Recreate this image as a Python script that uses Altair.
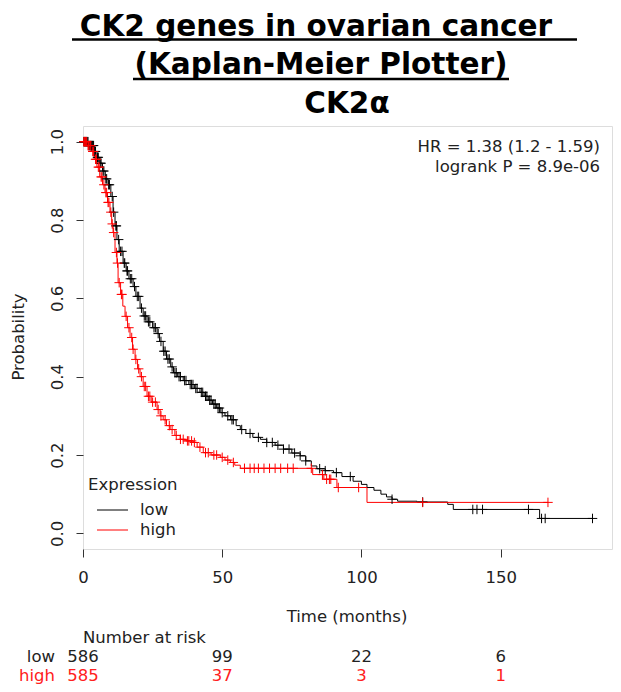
import bisect
import altair as alt
import pandas as pd

# ---------------- data ----------------
low_t = [0, 2, 4, 5, 6, 7, 8, 9, 10, 10.8, 11.5, 12.2, 13, 14.4, 15.5, 16.5, 18, 19, 20.5,
         21.6, 23, 25, 26.6, 27.5, 28.8, 30, 31.5, 32.5, 34, 36, 38, 40, 42, 43.5, 45, 46.5,
         48, 49.5, 51, 53, 55, 56.5, 58.5, 61, 63.7, 66, 69, 72, 75, 78, 80, 82, 84, 87, 90,
         93, 97, 100, 102, 104.5, 107, 109, 111, 113, 120, 131, 133, 164, 183]
low_s = [1.0, 0.99, 0.975, 0.96, 0.945, 0.925, 0.905, 0.89, 0.86, 0.82, 0.785, 0.75, 0.72,
         0.69, 0.67, 0.65, 0.63, 0.605, 0.575, 0.555, 0.54, 0.525, 0.51, 0.49, 0.465, 0.445,
         0.425, 0.41, 0.40, 0.39, 0.38, 0.37, 0.36, 0.35, 0.34, 0.33, 0.32, 0.308, 0.30, 0.29,
         0.275, 0.265, 0.255, 0.245, 0.24, 0.232, 0.225, 0.215, 0.205, 0.198, 0.185, 0.172,
         0.165, 0.16, 0.155, 0.145, 0.133, 0.125, 0.117, 0.11, 0.10, 0.093, 0.087, 0.082,
         0.08, 0.074, 0.061, 0.038, 0.038]

high_t = [0, 1.5, 3, 4, 5, 6, 7, 7.9, 8.8, 9.7, 10.3, 10.8, 11.5, 12.2, 12.6, 13.5, 14.3,
          15.1, 16, 16.9, 17.8, 18.7, 19.6, 20.5, 21.6, 23, 24.5, 26.6, 27.7, 28.8, 30, 31.3,
          33, 34.9, 37, 39.6, 41, 43.2, 46, 49.3, 51, 52.9, 54.5, 56.5, 82.5, 86.5, 91.2,
          102, 167]
high_s = [1.0, 0.99, 0.975, 0.955, 0.935, 0.91, 0.89, 0.87, 0.845, 0.82, 0.79, 0.768, 0.717,
          0.69, 0.64, 0.61, 0.58, 0.554, 0.525, 0.50, 0.47, 0.444, 0.42, 0.40, 0.375, 0.35,
          0.335, 0.316, 0.30, 0.29, 0.275, 0.265, 0.25, 0.24, 0.236, 0.232, 0.22, 0.206, 0.20,
          0.194, 0.187, 0.181, 0.174, 0.166, 0.15, 0.138, 0.117, 0.079, 0.079]

low_censor = [0.3, 0.5, 0.8, 1, 1.3, 1.5, 1.8, 2.2, 2.5, 2.8, 3, 3.3, 3.5, 3.8, 4.2, 4.5, 5.2,
              5.5, 6.2, 6.5, 7.2, 7.5, 8.2, 8.5, 9.2, 9.5, 10.5, 11, 11.8, 12, 12.8, 13.5, 14,
              14.8, 15, 15.8, 16, 17, 17.5, 18.5, 19.5, 20, 21, 22, 22.5, 23.5, 24, 25.5, 26,
              27, 28, 29, 29.5, 30.5, 31, 32, 33, 33.5, 34.5, 35, 36.5, 37, 38.5, 39, 39.5,
              40.5, 41, 42.5, 43, 44, 44.5, 45.5, 46, 47, 47.5, 48.5, 49, 50, 52, 53.5, 54, 57,
              60, 63, 66, 68, 70, 72, 74, 76, 78, 80, 85, 87, 91, 96, 111, 122, 140, 141.5,
              143.5, 160, 164.7, 166, 183]
high_censor = [0.3, 0.5, 0.8, 1, 1.3, 1.8, 2, 2.5, 2.8, 3.5, 3.8, 4.5, 4.8, 5.5, 5.8, 6.5,
               6.8, 7.5, 8.2, 8.5, 9, 9.3, 10, 10.5, 11, 12, 12.4, 13, 13.8, 14, 15.5, 16.5,
               17.5, 18, 19, 20, 21, 22, 22.5, 23.5, 24, 25, 26, 27, 28, 29.5, 31, 32, 33.5,
               35, 36, 37.5, 38, 39, 40, 42, 44, 45, 47, 48, 50, 52, 54, 58, 60, 61.5, 63, 65,
               67, 69, 71, 73.5, 75.5, 82, 86, 87.5, 88.5, 89, 91.7, 99, 122, 167]

groups = ["low", "high"]
group_colors = ["#000000", "#ff0000"]
risk_times = [0, 50, 100, 150]
risk_low = [586, 99, 22, 6]
risk_high = [585, 37, 3, 1]
x_ticks = [0, 50, 100, 150]
y_ticks = [0.0, 0.2, 0.4, 0.6, 0.8, 1.0]
hr_text = "HR = 1.38 (1.2 - 1.59)"
p_text = "logrank P = 8.9e-06"
title_lines = ["CK2 genes in ovarian cancer", "(Kaplan-Meier Plotter)"]
subtitle = "CK2\u03b1"

# ---------------- tables ----------------
curve_rows = []
for g, ts, ss in [("low", low_t, low_s), ("high", high_t, high_s)]:
    for i, (t, s) in enumerate(zip(ts, ss)):
        curve_rows.append({"group": g, "t": t, "s": s, "i": i})
curves = pd.DataFrame(curve_rows)


def surv_at(ts, ss, c):
    k = bisect.bisect_right(ts, c) - 1
    return ss[max(k, 0)]


cens_rows = []
for g, ts, ss, cs in [("low", low_t, low_s, low_censor), ("high", high_t, high_s, high_censor)]:
    for c in cs:
        cens_rows.append({"group": g, "t": c, "s": surv_at(ts, ss, c)})
cens = pd.DataFrame(cens_rows)

risk = pd.DataFrame({"t": risk_times * 2,
                     "n": [str(v) for v in risk_low + risk_high],
                     "group": ["low"] * 4 + ["high"] * 4})

one = pd.DataFrame({"a": [0]})

FONT = "DejaVu Sans"
TFONT = "DejaVu Sans"
FS = 16.5
TS = 29.5

xscale = alt.Scale(domain=[0, 190], nice=False, zero=False)
yscale = alt.Scale(domain=[-0.04, 1.04], nice=False, zero=False)
cscale = alt.Scale(domain=groups, range=group_colors)

X = alt.X("t:Q", scale=xscale,
          axis=alt.Axis(values=x_ticks, title=None, grid=False, domain=False, tickSize=8,
                        tickColor="#333", labelFont=FONT, labelFontSize=FS, labelColor="#222",
                        labelPadding=20, labelBaseline="middle", labelFlush=False))
Y = alt.Y("s:Q", scale=yscale,
          axis=alt.Axis(values=y_ticks, format=".1f", title=None, grid=False, domain=False,
                        tickSize=7, tickColor="#333", labelFont=FONT, labelFontSize=FS,
                        labelColor="#222", labelAngle=270, labelAlign="center",
                        labelBaseline="alphabetic", labelPadding=14, labelFlush=False))

lines = alt.Chart(curves).mark_line(interpolate="step-after", strokeWidth=1).encode(
    x=X, y=Y, color=alt.Color("group:N", scale=cscale, legend=None),
    order="i:Q", detail="group:N")

marks = alt.Chart(cens).mark_point(shape="M-1,0L1,0M0,-1L0,1", filled=False, size=90,
                                   strokeWidth=1, opacity=1).encode(
    x=X, y=Y, color=alt.Color("group:N", scale=cscale, legend=None))

risk_low_layer = alt.Chart(risk[risk.group == "low"]).mark_text(
    font=FONT, fontSize=FS, color="#222", baseline="middle", align="center").encode(
    x=X, y=alt.value(531), text="n:N")
risk_high_layer = alt.Chart(risk[risk.group == "high"]).mark_text(
    font=FONT, fontSize=FS, color="#ff2020", baseline="middle", align="center").encode(
    x=X, y=alt.value(550), text="n:N")


def txt(s, x, y, align="left", color="#222", size=FS, font=FONT, weight="normal", angle=0,
        baseline="middle"):
    kw = dict(text=s, font=font, fontSize=size, color=color, align=align,
              baseline=baseline, fontWeight=weight)
    if angle:
        kw["angle"] = angle
    return alt.Chart(one).mark_text(**kw).encode(x=alt.value(x), y=alt.value(y))


def rule(x1, x2, y, color="#000", width=1.0):
    return alt.Chart(one).mark_rule(color=color, strokeWidth=width).encode(
        x=alt.value(x1), x2=alt.value(x2), y=alt.value(y))


decor = [
    # title
    txt(title_lines[0], 233, -90, align="center", color="#000", size=TS, font=TFONT,
        weight="bold", baseline="alphabetic"),
    rule(-11, 494, -86.5, width=2.5),
    txt(title_lines[1], 238, -52, align="center", color="#000", size=TS, font=TFONT,
        weight="bold", baseline="alphabetic"),
    rule(50, 426, -47, width=2.5),
    txt(subtitle, 264, -13, align="center", color="#000", size=TS, font=TFONT,
        weight="bold", baseline="alphabetic"),
    # statistics
    txt(hr_text, 517, 21, align="right"),
    txt(p_text, 517, 41, align="right"),
    # legend
    txt("Expression", 5, 359),
    rule(14, 45, 384, color=group_colors[0]),
    rule(14, 45, 404, color=group_colors[1]),
    txt("low", 57, 384),
    txt("high", 57, 404),
    # axis titles
    txt("Time (months)", 264, 491, align="center"),
    txt("Probability", -64, 211, align="center", angle=270),
    # number at risk
    txt("Number at risk", 0, 512),
    txt("low", -28, 531, align="right"),
    txt("high", -28, 550, align="right", color="#ff2020"),
]

chart = alt.layer(lines, marks, risk_low_layer, risk_high_layer, *decor).properties(
    width=529, height=423,
    autosize=alt.AutoSizeParams(type="none"),
    padding={"left": 75, "top": 118, "right": 1, "bottom": 135},
).configure_view(stroke="#444", strokeWidth=1).configure(background="white")

chart.save("out.html", embed_options={"renderer": "svg", "actions": False})
